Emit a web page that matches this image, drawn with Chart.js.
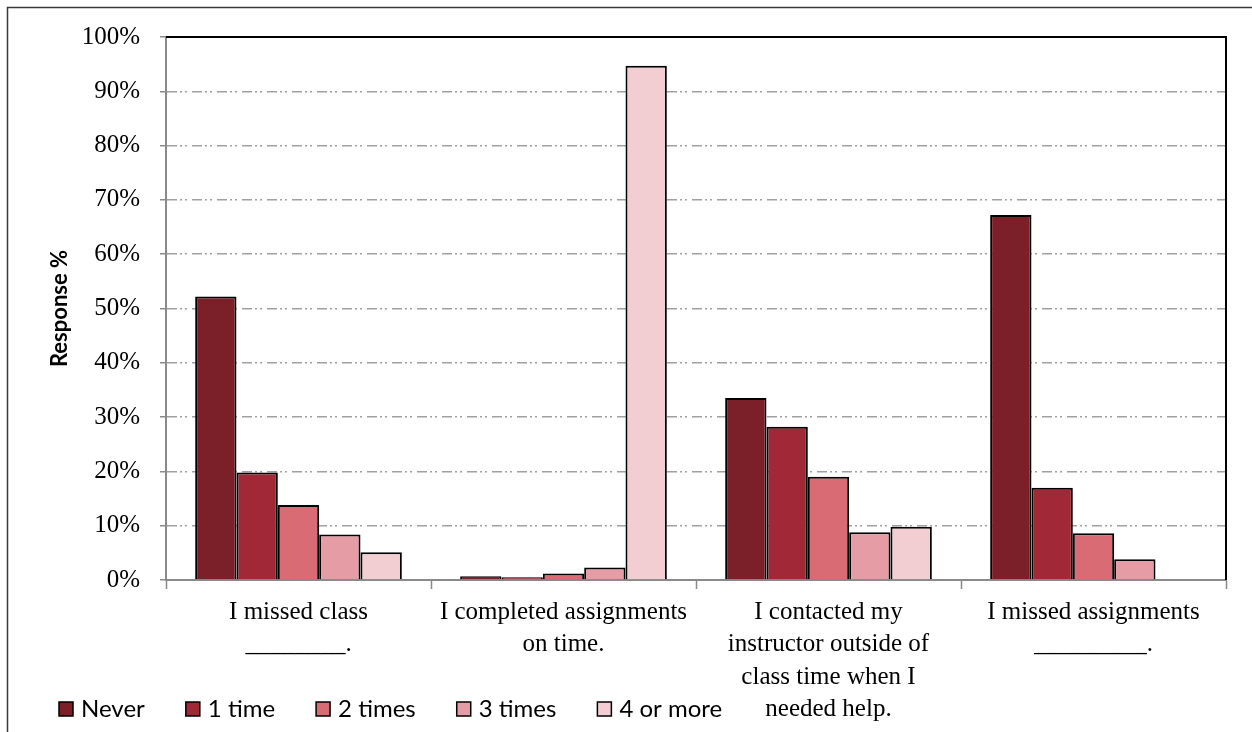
<!DOCTYPE html>
<html>
<head>
<meta charset="utf-8">
<style>
  html, body { margin: 0; padding: 0; background: #ffffff; }
  #wrap { width: 1252px; height: 732px; position: relative; }
</style>
<script src="https://cdn.jsdelivr.net/npm/chart.js@4.4.1/dist/chart.umd.min.js"></script>
</head>
<body>
<div id="wrap"><canvas id="c" width="1252" height="732"></canvas></div>
<script>
const categories = [
  ["I missed class", "________."],
  ["I completed assignments", "on time."],
  ["I contacted my", "instructor outside of", "class time when I", "needed help."],
  ["I missed assignments", "_________."]
];
const seriesNames = ["Never", "1 time", "2 times", "3 times", "4 or more"];
const never    = [52.2, 0.7, 33.5, 67.2];
const oneTime  = [19.8, 0.5, 28.2, 17.0];
const twoTimes = [13.8, 1.2, 19.0, 8.6];
const threeTimes = [8.4, 2.3, 8.8, 3.8];
const fourPlus = [5.1, 94.7, 9.8, 0];
const yTicks = [0, 10, 20, 30, 40, 50, 60, 70, 80, 90, 100];
const seriesColors = ["#7B1F28", "#A02837", "#D96B75", "#E69CA4", "#F2CED2"];

const seriesValues = [never, oneTime, twoTimes, threeTimes, fourPlus];

const framePlugin = {
  id: 'frame',
  beforeDraw(chart) {
    const ctx = chart.ctx;
    ctx.save();
    ctx.fillStyle = '#ffffff';
    ctx.fillRect(0, 0, chart.width, chart.height);
    ctx.strokeStyle = '#3a3a3a';
    ctx.lineWidth = 1.5;
    ctx.beginPath();
    ctx.moveTo(7.5, chart.height + 2);
    ctx.lineTo(7.5, 7.5);
    ctx.lineTo(chart.width + 2, 7.5);
    ctx.stroke();
    ctx.restore();
  },
  afterDatasetsDraw(chart) {
    const a = chart.chartArea;
    const ctx = chart.ctx;
    ctx.save();
    ctx.strokeStyle = '#000000';
    ctx.lineWidth = 2;
    ctx.beginPath();
    ctx.moveTo(a.left, a.top);
    ctx.lineTo(a.right, a.top);
    ctx.lineTo(a.right, a.bottom);
    ctx.stroke();
    ctx.restore();
  }
};

const legendPlugin = {
  id: 'customLegend',
  afterDraw(chart) {
    const ctx = chart.ctx;
    ctx.save();
    ctx.font = '24px Lato, "Open Sans", sans-serif';
    ctx.textBaseline = 'middle';
    let x = 59;
    const y = 709;
    chart.data.datasets.forEach(ds => {
      ctx.fillStyle = ds.backgroundColor;
      ctx.fillRect(x, y - 7, 14, 14);
      ctx.strokeStyle = '#000';
      ctx.lineWidth = 1.5;
      ctx.strokeRect(x, y - 7, 14, 14);
      ctx.fillStyle = '#000';
      ctx.fillText(ds.label, x + 22, y);
      x += 22 + ctx.measureText(ds.label).width + 41;
    });
    ctx.restore();
  }
};

new Chart(document.getElementById('c'), {
  type: 'bar',
  data: {
    labels: categories,
    datasets: seriesNames.map((n, i) => ({
      label: n,
      data: seriesValues[i],
      backgroundColor: seriesColors[i],
      borderColor: '#000000',
      borderWidth: 2,
      categoryPercentage: 0.78,
      barPercentage: 1.0
    }))
  },
  options: {
    responsive: false,
    animation: false,
    devicePixelRatio: 1,
    layout: { padding: { top: 37, right: 26, left: 0, bottom: 0 } },
    plugins: {
      legend: { display: false },
      tooltip: { enabled: false }
    },
    scales: {
      x: {
        afterFit(scale) { scale.height = 152; },
        grid: {
          offset: true,
          drawOnChartArea: false,
          drawTicks: true,
          tickLength: 9,
          tickColor: '#8a8a8a',
          tickWidth: 1.5
        },
        border: { color: '#8a8a8a', width: 2 },
        ticks: {
          color: '#000000',
          padding: 7,
          maxRotation: 0,
          font: { family: '"Liberation Serif", "Times New Roman", serif', size: 25, lineHeight: 1.3 }
        }
      },
      y: {
        min: 0,
        max: 100,
        afterFit(scale) { scale.width = 166; },
        afterBuildTicks(scale) { scale.ticks = yTicks.map(v => ({ value: v })); },
        grid: {
          color: '#a0a0a0',
          lineWidth: 1.5,
          tickBorderDash: [],
          tickColor: '#8a8a8a',
          tickLength: 6,
          drawTicks: true
        },
        border: { color: '#8a8a8a', width: 2, dash: [10, 3, 2, 3, 2, 5] },
        ticks: {
          color: '#000000',
          padding: 20,
          font: { family: '"Liberation Serif", "Times New Roman", serif', size: 25 },
          callback: v => v + '%'
        },
        title: {
          display: true,
          text: 'Response %',
          color: '#000000',
          font: { family: 'Lato, "Open Sans", sans-serif', size: 22, weight: 'bold' },
          padding: { top: 47, bottom: 0 }
        }
      }
    }
  },
  plugins: [framePlugin, legendPlugin]
});
</script>
</body>
</html>
